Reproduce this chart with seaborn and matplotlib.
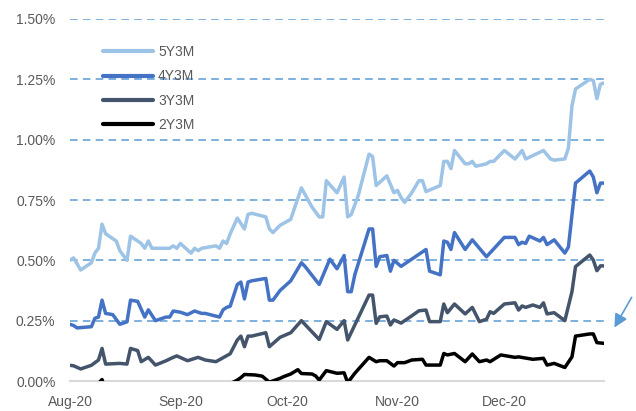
import pandas as pd
import matplotlib
matplotlib.use('Agg')
import matplotlib.pyplot as plt
import seaborn as sns

# values in %, x = day offset from 2020-08-01
days_5y = [0, 1, 3, 6, 7, 8, 9, 10, 13, 14, 16, 17, 20, 21, 22, 23, 28, 29, 30, 31,
           34, 35, 36, 37, 41, 42, 43, 44, 45, 47, 49, 50, 51, 55, 56, 57, 59, 62, 65, 68,
           70, 71, 72, 75, 77, 78, 79, 81, 84, 85, 86, 89, 91, 92, 93, 94, 96, 98, 99, 100,
           104, 105, 106, 107, 108, 111, 112, 113, 114, 117, 118, 119, 122, 125, 127, 128, 133, 135, 136, 139,
           140, 141, 142, 146, 147, 148, 149, 150]
vals_5y = [0.50, 0.51, 0.46, 0.49, 0.53, 0.55, 0.65, 0.61, 0.58, 0.54, 0.50, 0.60, 0.57, 0.55, 0.58, 0.55, 0.55, 0.56, 0.55, 0.57,
           0.53, 0.55, 0.54, 0.55, 0.56, 0.55, 0.58, 0.57, 0.61, 0.675, 0.63, 0.69, 0.695, 0.68, 0.63, 0.615, 0.645, 0.67, 0.80, 0.72,
           0.68, 0.68, 0.83, 0.78, 0.845, 0.68, 0.69, 0.77, 0.94, 0.93, 0.81, 0.85, 0.78, 0.79, 0.76, 0.74, 0.78, 0.83, 0.83, 0.785,
           0.81, 0.91, 0.91, 0.88, 0.955, 0.90, 0.90, 0.91, 0.89, 0.90, 0.91, 0.91, 0.955, 0.92, 0.955, 0.92, 0.955, 0.92, 0.915, 0.92,
           0.965, 1.14, 1.21, 1.25, 1.245, 1.17, 1.23, 1.235]

days_4y = [0, 1, 2, 6, 7, 8, 9, 10, 12, 14, 15, 16, 17, 19, 21, 22, 24, 27, 28, 29,
           31, 33, 35, 37, 38, 42, 43, 44, 45, 47, 48, 49, 50, 51, 55, 56, 57, 59, 62, 65,
           66, 70, 73, 75, 77, 78, 79, 80, 84, 85, 86, 87, 89, 90, 91, 93, 95, 97, 100, 101,
           104, 105, 106, 107, 108, 111, 113, 115, 117, 122, 125, 126, 127, 128, 129, 132, 133, 134, 136, 139,
           140, 142, 146, 147, 148, 149, 150]
vals_4y = [0.235, 0.23, 0.22, 0.225, 0.26, 0.265, 0.335, 0.28, 0.275, 0.235, 0.24, 0.245, 0.335, 0.33, 0.265, 0.295, 0.25, 0.265, 0.265, 0.29,
           0.285, 0.275, 0.29, 0.28, 0.28, 0.265, 0.295, 0.305, 0.31, 0.40, 0.41, 0.34, 0.41, 0.415, 0.425, 0.335, 0.335, 0.375, 0.415, 0.49,
           0.475, 0.40, 0.505, 0.465, 0.52, 0.37, 0.37, 0.44, 0.63, 0.63, 0.475, 0.515, 0.52, 0.455, 0.50, 0.475, 0.495, 0.515, 0.545, 0.455,
           0.44, 0.58, 0.575, 0.545, 0.615, 0.545, 0.585, 0.55, 0.515, 0.595, 0.595, 0.565, 0.575, 0.57, 0.60, 0.58, 0.595, 0.565, 0.585, 0.53,
           0.555, 0.82, 0.87, 0.845, 0.78, 0.82, 0.82]

days_3y = [0, 1, 3, 6, 8, 9, 10, 14, 16, 17, 19, 20, 22, 24, 27, 29, 30, 33, 36, 38,
           41, 45, 47, 48, 49, 50, 51, 55, 56, 59, 62, 65, 70, 72, 75, 77, 78, 84, 85, 86,
           87, 89, 90, 91, 93, 96, 98, 100, 101, 104, 105, 106, 108, 111, 113, 115, 117, 118, 119, 122,
           125, 126, 127, 128, 130, 132, 133, 134, 136, 139, 141, 142, 146, 147, 148, 149, 150]
vals_3y = [0.065, 0.063, 0.05, 0.065, 0.087, 0.135, 0.07, 0.073, 0.07, 0.135, 0.126, 0.08, 0.098, 0.066, 0.084, 0.098, 0.104, 0.084, 0.098, 0.087,
           0.08, 0.113, 0.17, 0.186, 0.142, 0.186, 0.186, 0.20, 0.142, 0.181, 0.20, 0.25, 0.172, 0.246, 0.214, 0.25, 0.17, 0.356, 0.356, 0.239,
           0.266, 0.269, 0.232, 0.253, 0.24, 0.27, 0.291, 0.294, 0.246, 0.246, 0.319, 0.283, 0.319, 0.278, 0.305, 0.246, 0.256, 0.287, 0.28, 0.319,
           0.324, 0.294, 0.311, 0.305, 0.315, 0.305, 0.324, 0.278, 0.283, 0.25, 0.37, 0.474, 0.522, 0.501, 0.457, 0.477, 0.477]

days_2y = [0, 6, 9, 10, 16, 30, 44, 45, 46, 47, 48, 49, 52, 54, 56, 59, 60, 62, 64, 65,
           68, 69, 70, 72, 75, 77, 78, 80, 84, 86, 87, 89, 91, 92, 94, 96, 99, 100, 104, 105,
           106, 108, 111, 113, 115, 117, 118, 121, 125, 126, 130, 133, 134, 136, 139, 141, 142, 146, 147, 148,
           150]
vals_2y = [-0.06, -0.04, 0.006, -0.04, -0.05, -0.04, -0.03, -0.01, -0.004, 0.004, 0.014, 0.027, 0.025, 0.02, -0.005, 0.011, 0.018, 0.029, 0.047, 0.031,
           0.029, 0.021, 0.004, 0.043, 0.032, 0.034, -0.007, 0.032, 0.098, 0.08, 0.084, 0.084, 0.062, 0.076, 0.076, 0.087, 0.09, 0.066, 0.066, 0.114,
           0.108, 0.114, 0.08, 0.112, 0.08, 0.087, 0.08, 0.108, 0.098, 0.1, 0.09, 0.094, 0.066, 0.073, 0.056, 0.1, 0.186, 0.195, 0.195, 0.159,
           0.156]

series = ['5Y3M', '4Y3M', '3Y3M', '2Y3M']
colors = ['#9DC3E6', '#4472C4', '#44546A', '#000000']
y_ticks = [0.0, 0.25, 0.5, 0.75, 1.0, 1.25, 1.5]
month_ticks = ['2020-08-01', '2020-09-01', '2020-10-01', '2020-11-01', '2020-12-01']
month_labels = ['Aug-20', 'Sep-20', 'Oct-20', 'Nov-20', 'Dec-20']

start = pd.Timestamp('2020-08-01')
frames = []
for name, d, v in zip(series, [days_5y, days_4y, days_3y, days_2y],
                      [vals_5y, vals_4y, vals_3y, vals_2y]):
    frames.append(pd.DataFrame({'date': start + pd.to_timedelta(d, unit='D'),
                                'value': v, 'series': name}))
df = pd.concat(frames, ignore_index=True)

sns.set_theme(style='white')
plt.rcParams['font.family'] = ['Liberation Sans', 'DejaVu Sans']

fig = plt.figure(figsize=(6.36, 4.11), dpi=100)
ax = fig.add_axes([70 / 636, 30 / 411, 534 / 636, 362 / 411])

# dashed guide lines (no line at zero, the axis is drawn there)
for t in y_ticks[1:]:
    ax.axhline(t, color='#5B9BD5', lw=1.1, linestyle=(0, (5.0, 3.4)), zorder=1)

sns.lineplot(data=df, x='date', y='value', hue='series', hue_order=series,
             palette=dict(zip(series, colors)), estimator=None, sort=False,
             lw=2.5, ax=ax, zorder=3)

ax.set_xlim(start, start + pd.Timedelta(days=150))
ax.set_ylim(0, 1.5)
ax.set_yticks(y_ticks)
ax.set_yticklabels([f'{t:.2f}%' for t in y_ticks])
ax.set_xticks(pd.to_datetime(month_ticks))
ax.set_xticklabels(month_labels)
ax.set_xlabel('')
ax.set_ylabel('')
ax.tick_params(axis='both', length=0, labelsize=10, labelcolor='#595959')
ax.tick_params(axis='y', pad=10.5)
ax.tick_params(axis='x', pad=10)

for s in ['top', 'right', 'left']:
    ax.spines[s].set_visible(False)
ax.spines['bottom'].set_color('#D9D9D9')
ax.spines['bottom'].set_linewidth(1.5)

handles, labels = ax.get_legend_handles_labels()
for h in handles:
    h.set_linewidth(3)
leg = ax.legend(handles, labels, loc='upper left', bbox_to_anchor=(0.062, 0.928),
                frameon=False, fontsize=10, handlelength=3.6, handletextpad=0.35,
                labelspacing=0.75, borderpad=0, borderaxespad=0)
for t in leg.get_texts():
    t.set_color('#595959')

# arrow pointing at the 0.25% level on the right
ax.annotate('', xy=(613, 81), xycoords='figure pixels', xytext=(633, 116),
            textcoords='figure pixels', annotation_clip=False,
            arrowprops=dict(arrowstyle='-|>', color='#5B9BD5', lw=1.2,
                            mutation_scale=20))

fig.savefig('out.png', dpi=100)
